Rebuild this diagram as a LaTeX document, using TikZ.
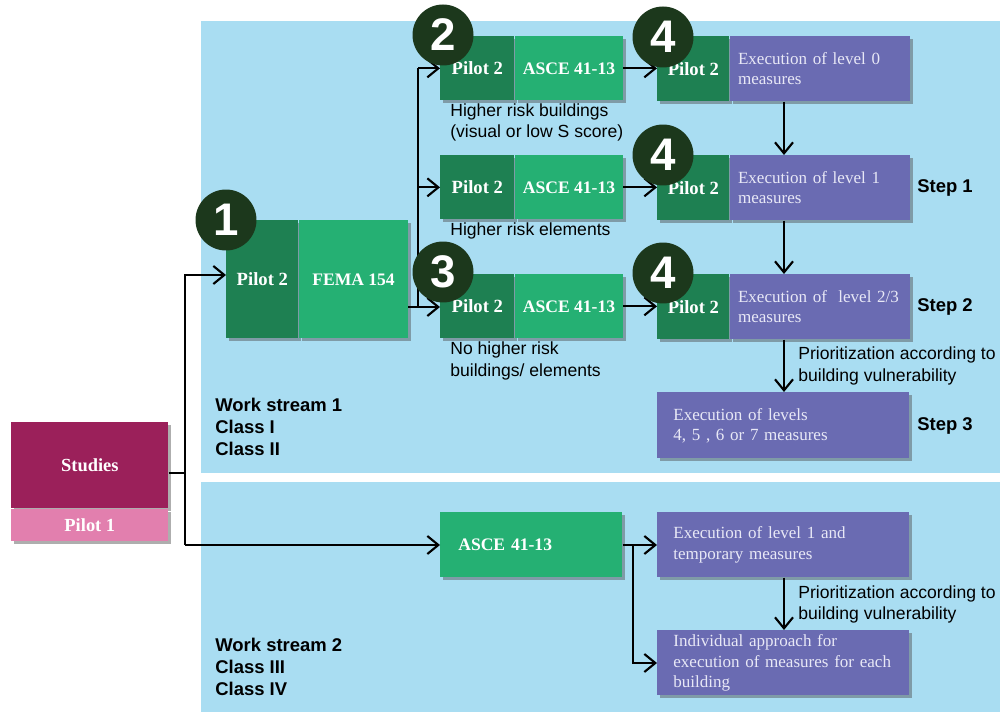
\documentclass[tikz,border=0pt]{standalone}
\usepackage{fontspec}
\setmainfont{Liberation Serif}
\setsansfont{Liberation Sans}
\usetikzlibrary{arrows.meta,shadows}
\definecolor{panelblue}{RGB}{169,221,242}
\definecolor{dkgreen}{RGB}{30,128,82}
\definecolor{ltgreen}{RGB}{37,176,115}
\definecolor{purp}{RGB}{106,107,178}
\definecolor{purtext}{RGB}{232,232,246}
\definecolor{numcol}{RGB}{28,56,28}
\definecolor{studcol}{RGB}{155,32,90}
\definecolor{pil1col}{RGB}{226,127,174}
\begin{document}
\begin{tikzpicture}[x=0.02cm,y=-0.02cm,
  shad/.style={drop shadow={shadow xshift=0.05cm,shadow yshift=-0.05cm,opacity=0.45,fill=black!70}},
  dk/.style={shad,fill=dkgreen,text=white,font=\bfseries\fontsize{10.6}{12}\selectfont,inner sep=0,anchor=north west},
  lt/.style={shad,fill=ltgreen,text=white,font=\bfseries\fontsize{10}{12}\selectfont,inner sep=0,anchor=north west},
  pur/.style={shad,fill=purp,text=purtext,font=\fontsize{9.7}{11.4}\selectfont,align=left,anchor=north west,inner ysep=0},
  num/.style={circle,fill=numcol,text=white,font=\sffamily\bfseries\fontsize{26}{26}\selectfont,minimum size=1.22cm,inner sep=0},
  lab/.style={font=\sffamily\fontsize{10}{12}\selectfont,align=left,anchor=west,inner sep=0},
  boldlab/.style={font=\sffamily\bfseries\fontsize{10.5}{12.6}\selectfont,align=left,anchor=west,inner sep=0},
  ln/.style={line width=1.2pt},
  arr/.style={ln,-{Straight Barb[length=2.2mm,width=3.6mm]}}
]
\useasboundingbox (0,0) rectangle (1000,712);
% panels
\fill[panelblue] (201,21) rectangle (1000,473);
\fill[panelblue] (201,482) rectangle (1000,712);

% studies
\node[shad,fill=studcol,text=white,font=\bfseries\fontsize{10.5}{12}\selectfont,inner sep=0,anchor=north west,minimum width=3.14cm,minimum height=1.72cm] (studies) at (11,422) {Studies};
\node[shad,fill=pil1col,text=white,font=\bfseries\fontsize{10.5}{12}\selectfont,inner sep=0,anchor=north west,minimum width=3.14cm,minimum height=0.64cm] (pilot1) at (studies.south west) {Pilot 1};

% FEMA
\node[dk,minimum width=1.44cm,minimum height=2.36cm] (fd) at (226,220) {Pilot 2};
\node[lt,minimum width=2.18cm,minimum height=2.36cm] (fl) at (fd.north east) {FEMA 154};

% ASCE column
\node[dk,minimum width=1.48cm,minimum height=1.28cm] (b2d) at (440,36) {Pilot 2};
\node[lt,minimum width=2.16cm,minimum height=1.28cm] (b2l) at (b2d.north east) {ASCE 41-13};
\node[dk,minimum width=1.48cm,minimum height=1.28cm] (bMd) at (440,155) {Pilot 2};
\node[lt,minimum width=2.16cm,minimum height=1.28cm] (bMl) at (bMd.north east) {ASCE 41-13};
\node[dk,minimum width=1.48cm,minimum height=1.28cm] (b3d) at (440,274) {Pilot 2};
\node[lt,minimum width=2.16cm,minimum height=1.28cm] (b3l) at (b3d.north east) {ASCE 41-13};

% execution column
\node[dk,minimum width=1.44cm,minimum height=1.3cm] (e1d) at (657,36) {Pilot 2};
\node[pur,minimum height=1.3cm,inner xsep=0.16cm,text width=3.28cm] (e1p) at (e1d.north east) {Execution of level 0\\measures};
\node[dk,minimum width=1.44cm,minimum height=1.3cm] (e2d) at (657,155) {Pilot 2};
\node[pur,minimum height=1.3cm,inner xsep=0.16cm,text width=3.28cm] (e2p) at (e2d.north east) {Execution of level 1\\measures};
\node[dk,minimum width=1.44cm,minimum height=1.3cm] (e3d) at (657,274) {Pilot 2};
\node[pur,minimum height=1.3cm,inner xsep=0.16cm,text width=3.28cm] (e3p) at (e3d.north east) {\mbox{Execution of~ level 2/3}\\measures};
\node[pur,minimum height=1.32cm,inner xsep=0.32cm,text width=4.4cm] (s3) at (657,392) {Execution of levels\\4, 5 , 6 or 7 measures};

% bottom stream
\node[shad,fill=ltgreen,text=white,font=\bfseries\fontsize{10}{12}\selectfont,anchor=north west,align=left,inner ysep=0,inner xsep=0.36cm,text width=2.92cm,minimum height=1.3cm] (asceB) at (440,512) {ASCE 41-13};
\node[pur,minimum height=1.3cm,inner xsep=0.32cm,text width=4.4cm] (execB) at (657,512) {Execution of level 1 and\\temporary measures};
\node[pur,minimum height=1.3cm,inner xsep=0.32cm,text width=4.4cm] (indB) at (657,630) {Individual approach for\\\mbox{execution of measures for each}\\building};

% text labels
\node[lab] (t2) at (450,122) {Higher risk buildings\\(visual or low S score)};
\node[lab] (tM) at (450,231) {Higher risk elements};
\node[lab] (t3) at (450,361) {No higher risk\\buildings/ elements};
\node[lab] (pr1) at (798,366) {Prioritization according to\\building vulnerability};
\node[lab] (pr2) at (798,604) {Prioritization according to\\building vulnerability};
\node[boldlab] (st1) at (917,188) {Step 1};
\node[boldlab] (st2) at (917,307) {Step 2};
\node[boldlab] (st3) at (917,426) {Step 3};
\node[boldlab] (ws1) at (215,427) {Work stream 1\\Class I\\Class II};
\node[boldlab] (ws2) at (215,667) {Work stream 2\\Class III\\Class IV};

% connectors
\coordinate (js) at (185,473);
\draw[ln] (studies.east |- js) -- (js);
\draw[arr] (js) |- (fd.west |- 0,275);
\coordinate (jb) at (185,545);
\draw[ln] (js) -- (jb);
\draw[arr] (jb) -- (asceB.west |- jb);

\coordinate (jf) at (418,307);
\draw[arr] (fl.east |- jf) -- (b3d.west |- jf);
\draw[ln] (jf) -- (jf |- b2d.west);
\draw[arr] (jf |- b2d.west) -- (b2d.west);
\draw[arr] (jf |- bMd.west) -- (bMd.west);

\draw[arr] (b2l.east) -- (e1d.west |- b2l.east);
\draw[arr] (bMl.east) -- (e2d.west |- bMl.east);
\draw[arr] (b3l.east) -- (e3d.west |- b3l.east);

\coordinate (cx) at (784,0);
\draw[arr] (cx |- e1p.south) -- (cx |- e2p.north);
\draw[arr] (cx |- e2p.south) -- (cx |- e3p.north);
\draw[arr] (cx |- e3p.south) -- (cx |- s3.north);

\coordinate (jB) at (633,545);
\draw[arr] (asceB.east |- jB) -- (execB.west |- jB);
\draw[arr] (jB) |- (indB.west |- 0,663);
\draw[arr] (cx |- execB.south) -- (cx |- indB.north);

% numbered circles
\node[num] (n1) at (226,220) {1};
\node[num] (n2) at (443,35) {2};
\node[num] (n3) at (443,272) {3};
\node[num] (n4a) at (663,37) {4};
\node[num] (n4b) at (663,155) {4};
\node[num] (n4c) at (663,273) {4};
\end{tikzpicture}
\end{document}
